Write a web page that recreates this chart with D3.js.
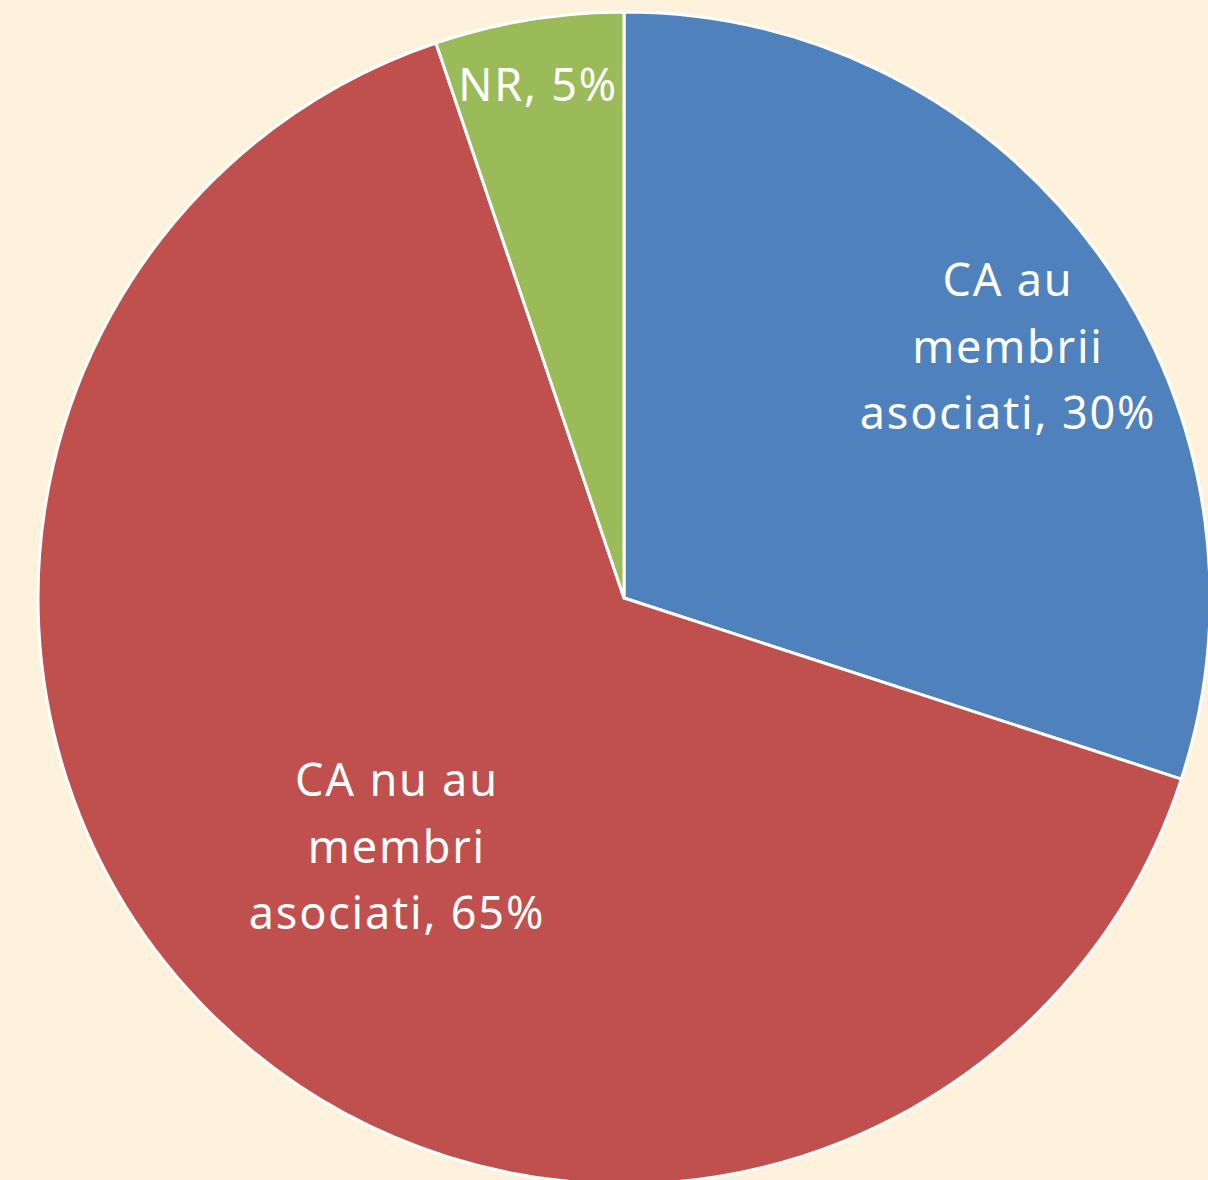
<!DOCTYPE html>
<html>
<head>
<meta charset="utf-8">
<script src="https://cdn.jsdelivr.net/npm/d3@7"></script>
<style>
  html, body { margin: 0; padding: 0; background: #FFF2DC; }
  svg { display: block; }
</style>
</head>
<body>
<svg id="chart"></svg>
<script>
'use strict'

// data (slice sizes; labels show rounded percents)
const categories = ['CA au membrii asociati', 'CA nu au membri asociati', 'NR']
const values = [30.0, 64.8, 5.2]
const labelLines = [
  ['CA au', 'membrii', 'asociati, 30%'],
  ['CA nu au', 'membri', 'asociati, 65%'],
  ['NR, 5%']
]
const colors = ['#4F81BD', '#C0504D', '#9BBB59']

// label placement: fraction of radius, and small turn offset from the slice's mid angle
const labelRadius = [0.783, 0.575, 0.888]
const labelAngleShift = [0.0078, -0.0063, -0.0004]

;(function (d3) {
  const width = 1208
  const height = 1180
  const cx = 624
  const cy = 598
  const radius = 586
  const fontSize = 45
  const lineHeight = 66.5

  const svg = d3.select('#chart')
    .attr('width', width)
    .attr('height', height)

  svg.append('rect')
    .attr('width', width)
    .attr('height', height)
    .attr('fill', '#FFF2DC')

  const g = svg.append('g')
    .attr('transform', 'translate(' + cx + ',' + cy + ')')

  const pie = d3.pie().sort(null).value(d => d)
  const arcs = pie(values)

  const arc = d3.arc().innerRadius(0).outerRadius(radius)

  const color = d3.scaleOrdinal().domain(categories).range(colors)

  g.selectAll('path.slice')
    .data(arcs)
    .enter()
    .append('path')
    .attr('class', 'slice')
    .attr('d', arc)
    .attr('fill', (d, i) => color(categories[i]))
    .attr('stroke', '#FFFFFF')
    .attr('stroke-width', 3)
    .attr('stroke-linejoin', 'round')

  const labels = g.selectAll('text.label')
    .data(arcs)
    .enter()
    .append('text')
    .attr('class', 'label')
    .attr('fill', '#FFFFFF')
    .attr('font-family', '"Noto Sans", sans-serif')
    .attr('font-size', fontSize)
    .attr('letter-spacing', 1.8)
    .attr('text-anchor', 'middle')
    .attr('transform', (d, i) => {
      const a = (d.startAngle + d.endAngle) / 2 + labelAngleShift[i] * 2 * Math.PI
      const r = radius * labelRadius[i]
      return 'translate(' + (r * Math.sin(a)) + ',' + (-r * Math.cos(a)) + ')'
    })

  labels.each(function (d, i) {
    const lines = labelLines[i]
    const top = -(lines.length - 1) * lineHeight / 2
    d3.select(this).selectAll('tspan')
      .data(lines)
      .enter()
      .append('tspan')
      .attr('x', 0)
      .attr('y', (l, j) => top + j * lineHeight)
      .attr('dy', '0.35em')
      .text(l => l)
  })
})(d3)
</script>
</body>
</html>
